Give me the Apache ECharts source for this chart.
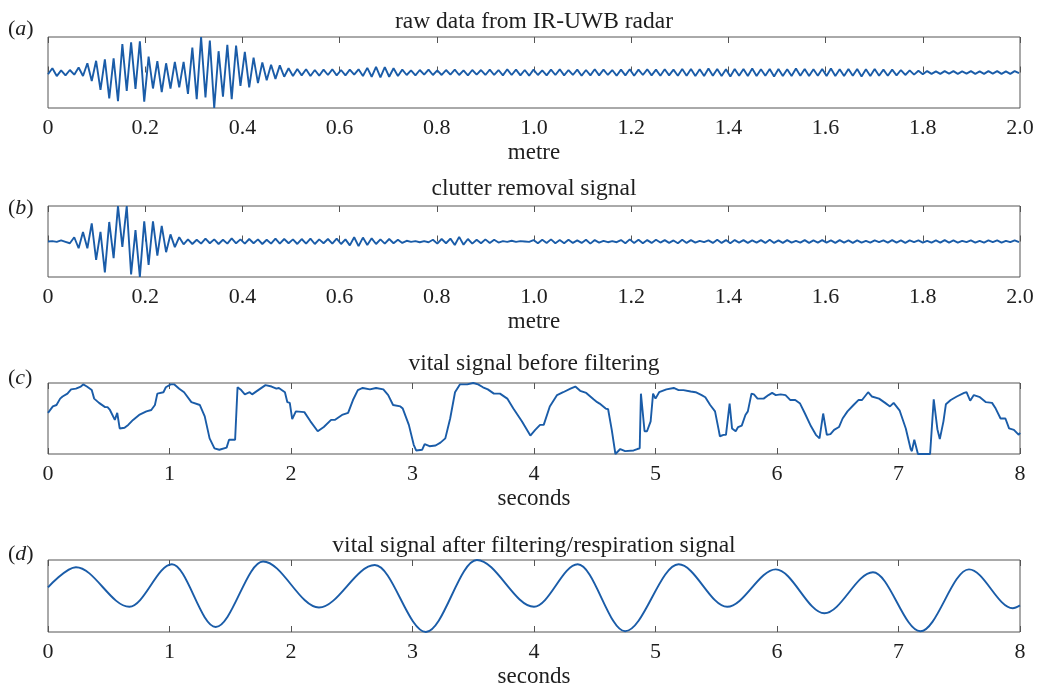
<!DOCTYPE html>
<html>
<head>
<meta charset="utf-8">
<script src="https://cdn.jsdelivr.net/npm/echarts@6/dist/echarts.min.js"></script>
<style>
html, body { margin: 0; padding: 0; background: #ffffff; }
#chart { width: 1040px; height: 686px; }
</style>
</head>
<body>
<div id="chart"></div>
<script>
// ---------------- data ----------------
const titles = [
  'raw data from IR-UWB radar',
  'clutter removal signal',
  'vital signal before filtering',
  'vital signal after filtering/respiration signal'
];
const panelLetters = ['a', 'b', 'c', 'd'];
const axisNames = ['metre', 'metre', 'seconds', 'seconds'];
const metreTicks = ['0', '0.2', '0.4', '0.6', '0.8', '1.0', '1.2', '1.4', '1.6', '1.8', '2.0'];
const secondTicks = ['0', '1', '2', '3', '4', '5', '6', '7', '8'];

// (a) raw radar samples, one sample every 0.009 m
const aStep = 0.009;
const aValues = [
  -0.05, 0.12, -0.10, 0.06, -0.08, 0.07, -0.06, 0.14, -0.10,
  0.26, -0.24, 0.33, -0.49, 0.37, -0.73, 0.40, -0.81, 0.80, -0.52, 0.85, -0.46, 0.88, -0.82,
  0.45, -0.45, 0.32, -0.55, 0.26, -0.45, 0.30, -0.42, 0.30, -0.60, 0.70, -0.75, 1.0, -0.70,
  0.90, -1.0, 0.60, -0.68, 0.78, -0.75, 0.76, -0.38, 0.58, -0.42, 0.42, -0.30, 0.28, -0.22,
  0.22, -0.18, 0.20, -0.12, 0.12, -0.10,
  0.10, -0.08, 0.09, -0.10, 0.07, -0.09, 0.08, -0.07, 0.09, -0.08,
  0.07, -0.08, 0.08, -0.06, 0.09, -0.10,
  0.13, -0.12, 0.16, -0.14, 0.15, -0.12, 0.12, -0.10,
  0.08, -0.07, 0.06, -0.08, 0.07, -0.06, 0.08, -0.07, 0.06, -0.07,
  0.07, -0.06, 0.08, -0.07, 0.06, -0.08, 0.07, -0.06, 0.07, -0.07,
  0.08, -0.07, 0.07, -0.08, 0.09, -0.07, 0.08, -0.08, 0.07, -0.09,
  0.08, -0.07, 0.06, -0.08, 0.08, -0.07, 0.09, -0.08, 0.07, -0.07,
  0.08, -0.09, 0.07, -0.08, 0.09, -0.08, 0.08, -0.07, 0.07, -0.09,
  0.08, -0.08, 0.09, -0.09, 0.08, -0.07, 0.09, -0.08, 0.08, -0.09,
  0.09, -0.08, 0.08, -0.09,
  0.10, -0.09, 0.10, -0.10, 0.09, -0.10, 0.11, -0.09, 0.10, -0.10,
  0.09, -0.11, 0.10, -0.09, 0.10, -0.10, 0.11, -0.10, 0.09, -0.09,
  0.10, -0.11, 0.10, -0.10, 0.09, -0.10, 0.11, -0.09, 0.10, -0.10,
  0.09, -0.09, 0.10, -0.10, 0.11, -0.10, 0.09, -0.10, 0.10, -0.09,
  0.10, -0.11, 0.09, -0.10, 0.10, -0.09, 0.08, -0.09, 0.08, -0.08,
  0.07, -0.07, 0.06, -0.06, 0.05, -0.05,
  0.04, -0.04, 0.03, -0.04, 0.04, -0.03, 0.04, -0.04, 0.03, -0.03,
  0.04, -0.04, 0.03, -0.04, 0.04, -0.03, 0.04, -0.04, 0.03, -0.04,
  0.04, -0.02
];

// (b) after clutter removal, one sample every 0.009 m
const bStep = 0.009;
const bValues = [
  0.00, 0.01, -0.01, 0.03, -0.01, -0.05, 0.12, -0.19,
  0.27, -0.19, 0.51, -0.52, 0.27, -0.87, 0.55, -0.47, 1.0, -0.15, 1.0, -0.93,
  0.32, -1.0, 0.57, -0.66, 0.57, -0.40, 0.44, -0.30, 0.20, -0.16, 0.12, -0.08,
  0.06, -0.07, 0.05, -0.06, 0.08, -0.05, 0.06, -0.07, 0.05, -0.06,
  0.09, -0.05, 0.06, -0.06, 0.07, -0.05, 0.06, -0.07, 0.05, -0.06,
  0.08, -0.06, 0.07, -0.05,
  0.06, -0.07, 0.07, -0.06, 0.08, -0.07, 0.06, -0.05, 0.07, -0.06, 0.08, -0.07, 0.06,
  -0.11, 0.12, -0.13, 0.11, -0.10, 0.09,
  -0.07, 0.06, -0.06, 0.07, -0.05, 0.05, -0.04,
  0.02, -0.01, 0.01, -0.02, 0.01, -0.02,
  0.05, -0.06, 0.07, -0.05, 0.08,
  -0.10, 0.13, -0.09, 0.07,
  -0.06, 0.05, -0.05, 0.06, -0.04, 0.05, -0.03,
  0.01, -0.01, 0.02, -0.01, 0.01, 0.0, -0.01,
  0.04, -0.05, 0.05, -0.04, 0.06, -0.05, 0.04, -0.05, 0.05, -0.04,
  0.03, -0.04, 0.05, -0.06, 0.04, -0.03, 0.02, -0.02, 0.01, -0.02,
  0.04, -0.05, 0.06, -0.04, 0.05, -0.05, 0.04, -0.04, 0.05, -0.03,
  0.04, -0.04, 0.03, -0.05, 0.05, -0.04, 0.04, -0.03, 0.02, -0.02,
  0.03, -0.04, 0.05, -0.04, 0.04, -0.05, 0.04, -0.03, 0.04, -0.04,
  0.03, -0.03, 0.04, -0.04, 0.05, -0.04, 0.03, -0.04, 0.04, -0.03,
  0.02, -0.03, 0.04, -0.04, 0.03, -0.03, 0.04, -0.03, 0.03, -0.04,
  0.04, -0.03, 0.03, -0.04, 0.03, -0.03, 0.02, -0.03, 0.03, -0.02,
  0.03, -0.03, 0.04, -0.03, 0.03, -0.04, 0.03, -0.02, 0.03, -0.03,
  0.02, -0.03, 0.03, -0.03, 0.04, -0.03, 0.03, -0.03, 0.02, -0.02,
  0.03, -0.03, 0.02, -0.03, 0.03, -0.02, 0.03, -0.03, 0.02, -0.02,
  0.03, -0.02
];

// (c) vital signal before filtering (seconds, normalised amplitude)
const cTime = [
  0.00, 0.04, 0.07, 0.10, 0.12, 0.16, 0.19, 0.23, 0.27, 0.29, 0.32, 0.36, 0.38, 0.42, 0.47, 0.49,
  0.51, 0.55, 0.57, 0.59, 0.63, 0.66, 0.70, 0.75, 0.81, 0.85, 0.88, 0.90, 0.95, 0.97, 1.01, 1.04,
  1.08, 1.12, 1.18, 1.25, 1.29, 1.33, 1.37, 1.41, 1.47, 1.49, 1.54, 1.55, 1.56, 1.59, 1.62, 1.66,
  1.68, 1.73, 1.79, 1.84, 1.88, 1.90, 1.95, 1.97, 1.99, 2.01, 2.04, 2.11, 2.16, 2.22, 2.27, 2.33,
  2.36, 2.42, 2.47, 2.51, 2.55, 2.59, 2.65, 2.70, 2.76, 2.80, 2.84, 2.90, 2.92, 2.97, 3.01, 3.03,
  3.08, 3.10, 3.14, 3.19, 3.23, 3.27, 3.31, 3.35, 3.39, 3.45, 3.50, 3.54, 3.58, 3.62, 3.67, 3.72,
  3.78, 3.83, 3.90, 3.97, 4.01, 4.05, 4.08, 4.13, 4.19, 4.24, 4.30, 4.34, 4.38, 4.43, 4.49, 4.52,
  4.54, 4.59, 4.61, 4.64, 4.67, 4.71, 4.75, 4.82, 4.85, 4.87, 4.88, 4.91, 4.93, 4.96, 4.98, 5.00,
  5.03, 5.09, 5.15, 5.19, 5.23, 5.29, 5.33, 5.38, 5.41, 5.45, 5.49, 5.52, 5.53, 5.56, 5.58, 5.61,
  5.63, 5.66, 5.68, 5.71, 5.74, 5.76, 5.79, 5.81, 5.84, 5.89, 5.93, 5.96, 5.99, 6.03, 6.07, 6.11,
  6.15, 6.19, 6.23, 6.28, 6.32, 6.35, 6.38, 6.41, 6.44, 6.47, 6.51, 6.54, 6.58, 6.63, 6.67, 6.70,
  6.75, 6.78, 6.84, 6.89, 6.93, 6.96, 7.01, 7.06, 7.10, 7.11, 7.13, 7.16, 7.21, 7.26, 7.29, 7.32,
  7.34, 7.37, 7.39, 7.43, 7.48, 7.54, 7.56, 7.59, 7.62, 7.67, 7.72, 7.77, 7.80, 7.84, 7.88, 7.91,
  7.95, 7.99, 8.00
];
const cValue = [
  0.58, 0.67, 0.69, 0.78, 0.81, 0.85, 0.91, 0.92, 0.95, 0.98, 0.95, 0.90, 0.78, 0.72, 0.66, 0.66,
  0.62, 0.48, 0.58, 0.36, 0.37, 0.41, 0.48, 0.55, 0.60, 0.62, 0.69, 0.85, 0.87, 0.94, 0.98, 0.98,
  0.92, 0.87, 0.73, 0.69, 0.53, 0.22, 0.08, 0.06, 0.09, 0.20, 0.20, 0.21, 0.94, 0.90, 0.84, 0.87,
  0.84, 0.90, 0.97, 0.95, 0.92, 0.93, 0.87, 0.73, 0.72, 0.49, 0.60, 0.59, 0.46, 0.32, 0.38, 0.48,
  0.48, 0.55, 0.58, 0.76, 0.90, 0.93, 0.91, 0.93, 0.91, 0.83, 0.69, 0.67, 0.64, 0.41, 0.13, 0.05,
  0.06, 0.14, 0.11, 0.12, 0.16, 0.22, 0.50, 0.87, 0.98, 0.98, 1.00, 0.98, 0.94, 0.91, 0.85, 0.85,
  0.78, 0.64, 0.46, 0.26, 0.34, 0.41, 0.41, 0.67, 0.83, 0.87, 0.92, 0.95, 0.89, 0.86, 0.77, 0.73,
  0.71, 0.64, 0.63, 0.34, 0.00, 0.07, 0.04, 0.05, 0.07, 0.08, 0.85, 0.32, 0.32, 0.46, 0.85, 0.78,
  0.87, 0.91, 0.93, 0.90, 0.90, 0.88, 0.87, 0.83, 0.80, 0.69, 0.60, 0.34, 0.25, 0.27, 0.27, 0.71,
  0.36, 0.32, 0.38, 0.40, 0.55, 0.60, 0.85, 0.84, 0.78, 0.78, 0.83, 0.86, 0.83, 0.84, 0.83, 0.76,
  0.76, 0.71, 0.57, 0.39, 0.27, 0.22, 0.57, 0.27, 0.28, 0.34, 0.38, 0.50, 0.60, 0.69, 0.76, 0.76,
  0.87, 0.81, 0.78, 0.72, 0.67, 0.72, 0.61, 0.36, 0.07, 0.04, 0.20, 0.00, 0.00, 0.00, 0.77, 0.35,
  0.21, 0.46, 0.70, 0.76, 0.81, 0.86, 0.87, 0.75, 0.83, 0.80, 0.73, 0.72, 0.64, 0.50, 0.50, 0.36,
  0.34, 0.27, 0.30
];

// (d) respiration signal: turning points (seconds, normalised amplitude)
const dTime = [0.00, 0.23, 0.67, 1.02, 1.38, 1.77, 2.23, 2.69, 3.11, 3.53, 4.00,
               4.36, 4.75, 5.19, 5.59, 5.99, 6.39, 6.79, 7.18, 7.58, 7.94, 8.00];
const dValue = [0.62, 0.90, 0.35, 0.94, 0.07, 0.98, 0.34, 0.93, 0.00, 1.00, 0.35,
                0.94, 0.01, 0.94, 0.35, 0.87, 0.26, 0.83, 0.01, 0.87, 0.33, 0.37];

// ---------------- layout / style ----------------
const FONT = "'Liberation Serif', 'Times New Roman', serif";
const TEXT = '#1e1e1e';
const BOX = '#555555';
const LINE = '#1a5ca8';
const panelTops = [37, 206, 383, 560];
const panelHeights = [71, 71, 71, 72];
const titleGaps = [3.5, 5, 7, 2];
const letterTops = [18, 197, 367, 543];

const xSpecs = [
  { max: 2, interval: 0.2, labels: metreTicks },
  { max: 2, interval: 0.2, labels: metreTicks },
  { max: 8, interval: 1, labels: secondTicks },
  { max: 8, interval: 1, labels: secondTicks }
];
const yRanges = [[-1, 1], [-1, 1], [0, 1], [0, 1]];

const grid = panelTops.map((t, k) => ({
  left: 48, right: 20, top: t, height: panelHeights[k],
  containLabel: false, outerBoundsMode: 'none',
  show: true, borderColor: BOX, borderWidth: 1, backgroundColor: 'transparent'
}));

const xAxis = [];
xSpecs.forEach((s, k) => {
  const common = {
    type: 'value', gridIndex: k, min: 0, max: s.max, interval: s.interval,
    axisLine: { show: false },
    axisTick: { show: true, inside: true, length: 6, lineStyle: { color: BOX, width: 1 } },
    splitLine: { show: false }
  };
  xAxis.push(Object.assign({}, common, {
    position: 'bottom',
    axisLabel: {
      show: true, margin: 9.5, fontFamily: FONT, fontSize: 22, color: TEXT,
      formatter: v => s.labels[Math.round(v / s.interval)]
    },
    name: axisNames[k], nameLocation: 'middle', nameGap: 33.5,
    nameTextStyle: { fontFamily: FONT, fontSize: 23, color: TEXT }
  }));
  xAxis.push(Object.assign({}, common, {
    position: 'top',
    axisLabel: { show: false },
    name: titles[k], nameLocation: 'middle', nameGap: titleGaps[k],
    nameTextStyle: { fontFamily: FONT, fontSize: 23.5, color: TEXT }
  }));
});

const yAxis = yRanges.map((r, k) => ({
  type: 'value', gridIndex: k, min: r[0], max: r[1], show: false
}));

const series = [
  { data: aValues.map((v, i) => [i * aStep, v]), width: 1.9 },
  { data: bValues.map((v, i) => [i * bStep, v]), width: 1.9 },
  { data: cTime.map((t, i) => [t, cValue[i]]), width: 1.9 },
  { data: dTime.map((t, i) => [t, dValue[i]]), width: 1.9, smooth: 0.34, smoothMonotone: 'x' }
].map((s, k) => {
  const out = {
    type: 'line', xAxisIndex: 2 * k, yAxisIndex: k, showSymbol: false, symbol: 'none',
    lineStyle: { color: LINE, width: s.width }, itemStyle: { color: LINE },
    animation: false, clip: true, data: s.data
  };
  if (s.smooth) { out.smooth = s.smooth; out.smoothMonotone = s.smoothMonotone; }
  return out;
});

const graphic = panelLetters.map((p, k) => ({
  type: 'text', left: 8, top: letterTops[k],
  style: {
    text: '{n|(}{i|' + p + '}{n|)}',
    rich: {
      n: { fontFamily: FONT, fontSize: 22, fill: TEXT, color: TEXT },
      i: { fontFamily: FONT, fontSize: 22, fontStyle: 'italic', fill: TEXT, color: TEXT }
    }
  }
}));

const chart = echarts.init(document.getElementById('chart'), null, { renderer: 'canvas' });
chart.setOption({
  animation: false,
  backgroundColor: '#ffffff',
  grid: grid,
  xAxis: xAxis,
  yAxis: yAxis,
  series: series,
  graphic: graphic
});
</script>
</body>
</html>
